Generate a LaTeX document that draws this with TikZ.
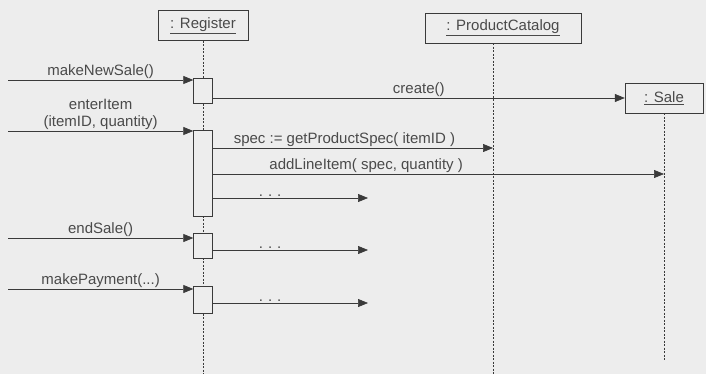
\documentclass[tikz,border=0pt]{standalone}
\usepackage{fontspec}
\setmainfont{Liberation Sans}
\usepackage{xcolor}
\usepackage{tikz}
\usetikzlibrary{arrows.meta,positioning}
\definecolor{paper}{HTML}{EDEDED}
\definecolor{ink}{HTML}{3A3A3A}
\definecolor{txt}{HTML}{4A4A4A}

\begin{document}
\begin{tikzpicture}[
x=1pt, y=-1pt,
font=\fontsize{15}{17}\selectfont,
seqobj/.style={draw=ink, fill=paper, text=txt, inner sep=0pt, minimum height=30pt},
seqact/.style={draw=ink, fill=paper, minimum width=19pt, inner sep=0pt},
seqlife/.style={draw=ink, line width=0.6pt, dash pattern=on 2pt off 1.5pt},
seqmsg/.style={-{Triangle[length=10pt, width=8pt]}, draw=ink, line width=0.7pt},
seqlbl/.style={above, inner sep=1.5pt, text=txt, align=center}
]
\fill[paper] (0,0) rectangle (706,374);
\useasboundingbox (0,0) rectangle (706,374);

% objects
\node[seqobj, minimum width=90pt] (reg) at (203,25.5) {\underline{: Register}};
\node[seqobj, minimum width=156pt] (cat) at (503,28) {\underline{: ProductCatalog}};
\node[seqobj, minimum width=78pt] (sale) at (664,98) {\underline{: Sale}};
\coordinate (catl) at ([xshift=-10pt]cat.south);
\coordinate (bottom) at (0,374);
\coordinate (salebot) at (0,360);

% lifelines
\draw[seqlife] (reg.south) -- (reg.south |- bottom);
\draw[seqlife] (catl) -- (catl |- bottom);
\draw[seqlife] (sale.south) -- (sale.south |- salebot);

% activations
\node[seqact, minimum height=25pt] (act1) at (203,90.5) {};
\node[seqact, minimum height=86pt] (act2) at (203,173) {};
\node[seqact, minimum height=25pt] (act3) at (203,245.5) {};
\node[seqact, minimum height=27pt] (act4) at (203,299.5) {};

% messages
\coordinate (src1) at (8,80);
\coordinate (src2) at (8,131);
\coordinate (src3) at (8,238);
\coordinate (src4) at (8,289);
\coordinate (y3) at (0,148);
\coordinate (y4) at (0,174);
\coordinate (out1) at (368,198);
\coordinate (out2) at (368,250);
\coordinate (out3) at (368,303);

\draw[seqmsg] (src1) -- node[seqlbl] {makeNewSale()} (src1 -| act1.west);
\draw[seqmsg] (act1.east |- sale.west) -- node[seqlbl] {create()} (sale.west);
\draw[seqmsg] (src2) -- node[seqlbl] {enterItem\\(itemID, quantity)} (src2 -| act2.west);
\draw[seqmsg] (act2.east |- y3) -- node[seqlbl, pos=0.47] {spec := getProductSpec( itemID )} (catl |- y3);
\draw[seqmsg] (act2.east |- y4) -- node[seqlbl, pos=0.34] {addLineItem( spec, quantity )} (sale |- y4);
\draw[seqmsg] (act2.east |- out1) -- node[seqlbl, pos=0.37] {.\,\,.\,\,.} (out1);
\draw[seqmsg] (src3) -- node[seqlbl] {endSale()} (src3 -| act3.west);
\draw[seqmsg] (act3.east |- out2) -- node[seqlbl, pos=0.37] {.\,\,.\,\,.} (out2);
\draw[seqmsg] (src4) -- node[seqlbl] {makePayment(...)} (src4 -| act4.west);
\draw[seqmsg] (act4.east |- out3) -- node[seqlbl, pos=0.37] {.\,\,.\,\,.} (out3);
\end{tikzpicture}
\end{document}
